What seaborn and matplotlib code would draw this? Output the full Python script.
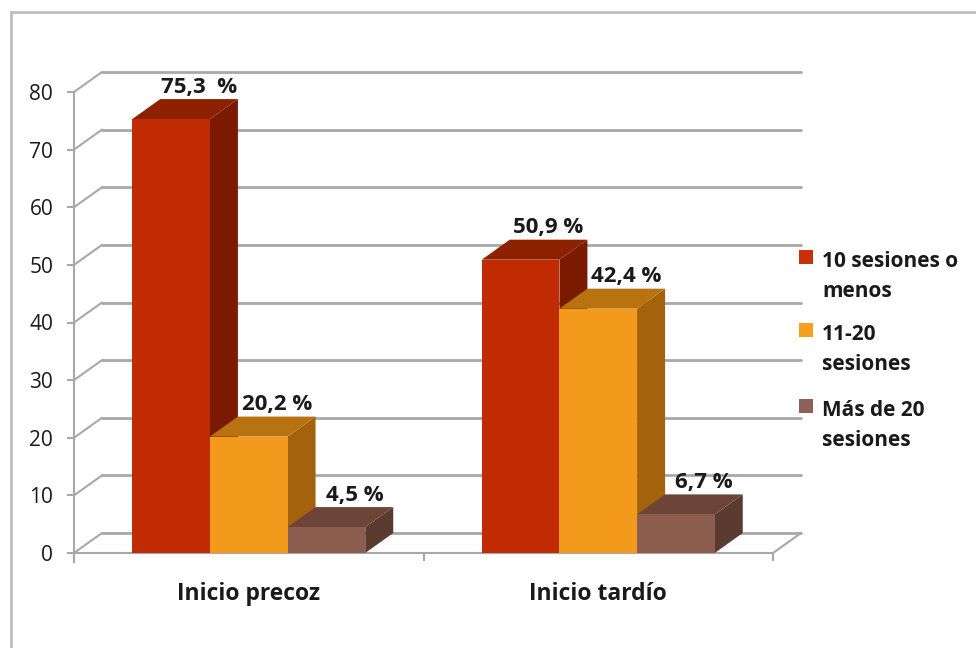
import numpy as np
import pandas as pd
import matplotlib
matplotlib.use("Agg")
import matplotlib.pyplot as plt
import seaborn as sns
from matplotlib.patches import Polygon, Rectangle
from matplotlib.lines import Line2D
from matplotlib.transforms import ScaledTranslation, IdentityTransform

inicio = ["Inicio precoz", "Inicio tardío"]
sesiones = ["10 sesiones o\nmenos", "11-20\nsesiones", "Más de 20\nsesiones"]
pct_precoz = [75.3, 20.2, 4.5]
pct_tardio = [50.9, 42.4, 6.7]
etiquetas_precoz = ["75,3  %", "20,2 %", "4,5 %"]
etiquetas_tardio = ["50,9 %", "42,4 %", "6,7 %"]
yticks = [0, 10, 20, 30, 40, 50, 60, 70, 80]

front_cols = ["#C02B03", "#F39A1C", "#8C5E50"]
side_cols = ["#7A1A00", "#A4620C", "#5B3A30"]
top_cols = ["#8E2200", "#B8720F", "#6D4538"]
legend_cols = ["#C8300A", "#F5A01E", "#8C6258"]

DX, DY = 28, 20  # depth offset in pixels
GRID = "#A8A8A8"
TXT = "#1A1A1A"

df = pd.DataFrame({
    "inicio": np.repeat(inicio, len(sesiones)),
    "sesiones": sesiones * len(inicio),
    "pct": pct_precoz + pct_tardio,
})

sns.set_theme(style="white")
plt.rcParams["font.family"] = ["Open Sans", "DejaVu Sans"]

fig = plt.figure(figsize=(9.76, 6.48), dpi=100)
W, H = 976, 648
ax = fig.add_axes([74 / W, 1 - 553 / H, 699 / W, (553 - 92) / H])
ax.set_facecolor("none")

sns.barplot(data=df, x="inicio", y="pct", hue="sesiones", hue_order=sesiones,
            palette=front_cols, width=2 / 3, saturation=1, legend=False,
            linewidth=0, ax=ax)

ax.set_xlim(-0.5, 1.5)
ax.set_ylim(0, 80)
for s in ["top", "right", "bottom"]:
    ax.spines[s].set_visible(False)
ax.spines["left"].set_color(GRID)
ax.spines["left"].set_linewidth(1.5)
ax.spines["left"].set_bounds(-1.5, 80)

ax.set_yticks(yticks)
ax.set_yticklabels([str(v) for v in yticks], fontsize=15, color=TXT)
ax.tick_params(axis="y", length=5, width=1.5, color=GRID, pad=10, left=True)

ax.set_xticks([-0.5, 0.5, 1.5])
ax.set_xticklabels(["", "", ""])
ax.set_xticks([0, 1], minor=True)
ax.set_xticklabels(inicio, minor=True, fontsize=16.5, fontweight="bold", color=TXT)
ax.tick_params(axis="x", which="major", length=6, width=1.5, color=GRID, bottom=True)
ax.tick_params(axis="x", which="minor", length=0, pad=21)
ax.set_xlabel("")
ax.set_ylabel("")

fig.canvas.draw()
back = ax.transData + ScaledTranslation(DX / 100, DY / 100, fig.dpi_scale_trans)

# back wall gridlines + left diagonals
for v in yticks:
    ax.add_line(Line2D([-0.5, 1.5], [v, v], transform=back, color=GRID, lw=2,
                       clip_on=False, zorder=0.5))
    p0 = ax.transData.transform((-0.5, v))
    ax.add_line(Line2D([p0[0], p0[0] + DX], [p0[1], p0[1] + DY],
                       transform=IdentityTransform(), color=GRID, lw=1.5,
                       clip_on=False, zorder=0.5))
# floor front edge and right edge
ax.add_line(Line2D([-0.5, 1.5], [0, 0], color=GRID, lw=1.5, clip_on=False, zorder=0.6))
pr = ax.transData.transform((1.5, 0))
ax.add_line(Line2D([pr[0], pr[0] + DX], [pr[1], pr[1] + DY], transform=IdentityTransform(),
                   color=GRID, lw=1.5, clip_on=False, zorder=0.6))

# 3D faces for every bar, drawn left to right so later fronts cover earlier sides
bars = sorted(ax.patches, key=lambda p: p.get_x())
for i, bar in enumerate(bars):
    k = i % len(sesiones)
    x0, w, h = bar.get_x(), bar.get_width(), bar.get_height()
    tr = ax.transData.transform((x0 + w, h))
    tl = ax.transData.transform((x0, h))
    br = ax.transData.transform((x0 + w, 0))
    side = [br, tr, tr + (DX, DY), br + (DX, DY)]
    top = [tl, tr, tr + (DX, DY), tl + (DX, DY)]
    z = 2 + i
    ax.add_patch(Polygon(side, closed=True, transform=IdentityTransform(),
                         facecolor=side_cols[k], edgecolor="none", clip_on=False, zorder=z))
    ax.add_patch(Polygon(top, closed=True, transform=IdentityTransform(),
                         facecolor=top_cols[k], edgecolor="none", clip_on=False, zorder=z + 0.1))
    bar.set_zorder(z + 0.2)
    bar.set_clip_on(False)

# data labels
for i, bar in enumerate(bars):
    g, k = i // len(sesiones), i % len(sesiones)
    lab = (etiquetas_precoz, etiquetas_tardio)[g][k]
    ax.annotate(lab, (bar.get_x() + bar.get_width() / 2, bar.get_height()),
                xytext=(28, 32), textcoords="offset pixels", ha="center", va="center",
                fontsize=16, fontweight="bold", color=TXT, zorder=20, annotation_clip=False)

# legend (manual, marker aligned with first line)
leg_y = [257, 330, 406]
for k, lab in enumerate(sesiones):
    y = leg_y[k]
    fig.add_artist(Rectangle((799 / W, 1 - (y + 7) / H), 14 / W, 14 / H,
                             transform=fig.transFigure, facecolor=legend_cols[k],
                             edgecolor="none"))
    fig.text(822 / W, 1 - (y - 6) / H, lab, ha="left", va="top", fontsize=15,
             fontweight="bold", color=TXT, linespacing=1.58)

# outer chart border
fig.add_artist(Rectangle((11 / W, -0.1), 1.2, 1 - 12 / H + 0.1, transform=fig.transFigure,
                         facecolor="none", edgecolor="#BDBDBD", lw=2))

fig.savefig("out.png", dpi=100)
